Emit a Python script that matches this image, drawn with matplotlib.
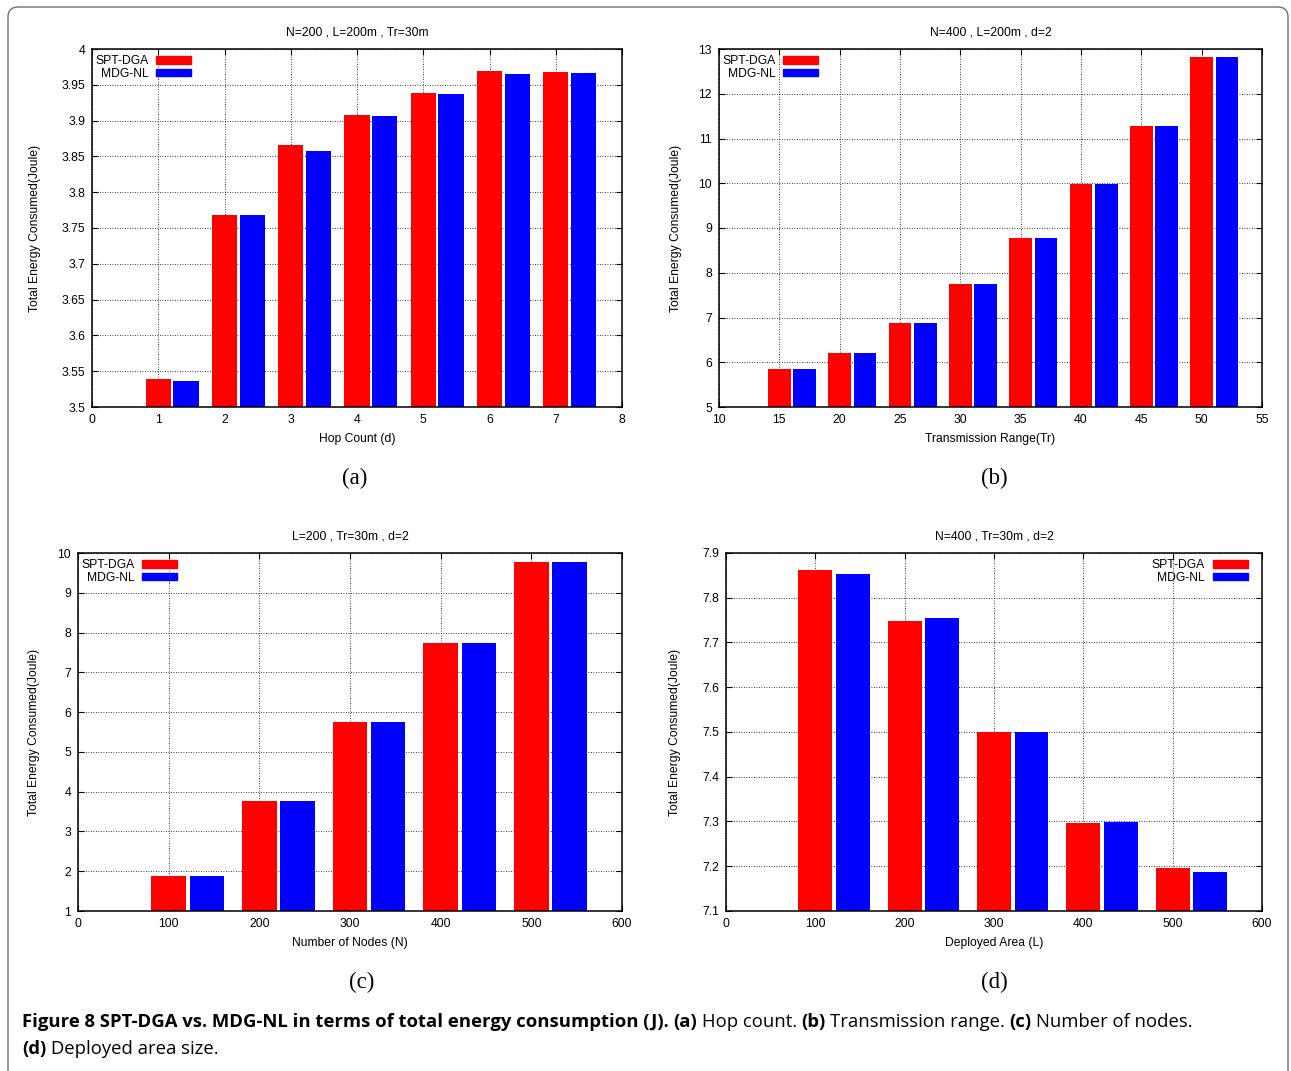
"""Figura 8: SPT-DGA vs. MDG-NL, energia total consumida (J) em quatro cenários."""

import matplotlib
matplotlib.use("Agg")
import matplotlib.pyplot as plt
import numpy as np
from matplotlib.patches import FancyBboxPatch, Patch
from matplotlib.ticker import FuncFormatter, MultipleLocator

# ------------ dados -----------------

series_names = ["SPT-DGA", "MDG-NL"]
series_colors = ["#ff0000", "#0000ff"]

hop_count = [1, 2, 3, 4, 5, 6, 7]
hop_spt = [3.539, 3.768, 3.866, 3.908, 3.938, 3.969, 3.968]
hop_mdg = [3.537, 3.768, 3.857, 3.906, 3.937, 3.965, 3.966]

tx_range = [15, 20, 25, 30, 35, 40, 45, 50]
tx_spt = [5.84, 6.20, 6.87, 7.74, 8.77, 9.98, 11.28, 12.82]
tx_mdg = [5.84, 6.20, 6.87, 7.74, 8.77, 9.98, 11.28, 12.82]

n_nodes = [100, 200, 300, 400, 500]
nodes_spt = [1.88, 3.77, 5.76, 7.75, 9.77]
nodes_mdg = [1.88, 3.77, 5.74, 7.75, 9.77]

area = [100, 200, 300, 400, 500]
area_spt = [7.861, 7.749, 7.499, 7.297, 7.196]
area_mdg = [7.854, 7.754, 7.499, 7.299, 7.187]

ylabel = "Total Energy Consumed(Joule)"

W, H = 1291, 1071
FS = 8.7
plt.rcParams["font.family"] = ["Liberation Sans", "DejaVu Sans"]

fig = plt.figure(figsize=(W / 100, H / 100), dpi=100)


def axes_rect(left, right, top, bottom):
    return [left / W, 1 - bottom / H, (right - left) / W, (bottom - top) / H]


# ------------ painel -----------------


def draw_panel(box, x, spt, mdg, step, title, xlabel, xlim, ylim, ystep,
               ylab_px, legend_right):
    left, right, top, bottom = box
    ax = fig.add_axes(axes_rect(left, right, top, bottom))
    x = np.asarray(x, dtype=float)
    w = 0.38 * step
    ax.bar(x, spt, width=w, color=series_colors[0], zorder=2)
    ax.bar(x + 0.42 * step, mdg, width=w, color=series_colors[1], zorder=2)
    ax.set_xlim(*xlim)
    ax.set_ylim(*ylim)
    ax.xaxis.set_major_locator(MultipleLocator(step))
    ax.yaxis.set_major_locator(MultipleLocator(ystep))
    ax.yaxis.set_major_formatter(FuncFormatter(lambda v, _: f"{v:g}"))
    ax.xaxis.set_major_formatter(FuncFormatter(lambda v, _: f"{v:g}"))
    ax.tick_params(direction="in", top=True, right=True, length=4,
                   width=0.8, labelsize=FS, pad=5)
    ax.grid(True, linestyle=(0, (1, 2)), color="black", linewidth=0.6)
    ax.set_axisbelow(True)
    for s in ax.spines.values():
        s.set_linewidth(1.1)
    ax.set_title(title, fontsize=FS, pad=10)
    ax.set_xlabel(xlabel, fontsize=FS, labelpad=5)
    ax.set_ylabel(ylabel, fontsize=FS)
    # ancora = borda direita do texto girado; centro fica ~6 px à esquerda
    ax.yaxis.set_label_coords((ylab_px + 6 - left) / (right - left), 0.5)

    handles = [Patch(color=c, label=n) for c, n in zip(series_colors, series_names)]
    wpx, hpx = right - left, bottom - top
    y_anchor = 1 - 3.8 / hpx
    if legend_right:
        loc, anchor = "upper right", (1 - 11.6 / wpx, y_anchor)
    else:
        loc, anchor = "upper left", (0.6 / wpx, y_anchor)
    ax.legend(handles=handles, loc=loc, bbox_to_anchor=anchor, frameon=False,
              markerfirst=False, fontsize=FS, handlelength=2.9, handleheight=0.55,
              handletextpad=0.65, labelspacing=0.05, borderpad=0.2,
              borderaxespad=0)
    return ax


draw_panel((92, 622, 49, 407), hop_count, hop_spt, hop_mdg, 1,
           "N=200 , L=200m , Tr=30m", "Hop Count (d)", (0, 8), (3.5, 4), 0.05,
           35, False)
draw_panel((719, 1262, 49, 407), tx_range, tx_spt, tx_mdg, 5,
           "N=400 , L=200m , d=2", "Transmission Range(Tr)", (10, 55), (5, 13), 1,
           676, False)
draw_panel((78, 622, 553, 911), n_nodes, nodes_spt, nodes_mdg, 100,
           "L=200 , Tr=30m , d=2", "Number of Nodes (N)", (0, 600), (1, 10), 1,
           34, False)
draw_panel((726, 1262, 553, 911), area, area_spt, area_mdg, 100,
           "N=400 , Tr=30m , d=2", "Deployed Area (L)", (0, 600), (7.1, 7.9), 0.1,
           675, True)

# rótulos (a)..(d)
for lab, px, py in [("(a)", 355, 478), ("(b)", 994, 478),
                    ("(c)", 362, 982), ("(d)", 994, 982)]:
    fig.text(px / W, 1 - py / H, lab, family="Liberation Serif", fontsize=16.5,
             ha="center", va="center")

# ------------ legenda da figura -----------------

caption_lines = [
    [("Figure 8 SPT-DGA vs. MDG-NL in terms of total energy consumption (J).", "bold"),
     ("(a)", "bold"), ("Hop count.", "normal"),
     ("(b)", "bold"), ("Transmission range.", "normal"),
     ("(c)", "bold"), ("Number of nodes.", "normal")],
    [("(d)", "bold"), ("Deployed area size.", "normal")],
]
renderer = fig.canvas.get_renderer()
for line, py in zip(caption_lines, [1022, 1049]):
    x = 22
    for txt, weight in line:
        t = fig.text(x / W, 1 - py / H, txt, family="Open Sans", fontsize=13.3,
                     fontweight=weight, va="center", ha="left")
        bb = t.get_window_extent(renderer)
        x = bb.x1 + 4.5

# moldura arredondada
frame = FancyBboxPatch((8, -20), 1280, 1084, boxstyle="round,pad=0,rounding_size=10",
                       transform=None, fill=False, edgecolor="#707070", linewidth=1.0)
fig.add_artist(frame)

fig.savefig("out.png", dpi=100)
